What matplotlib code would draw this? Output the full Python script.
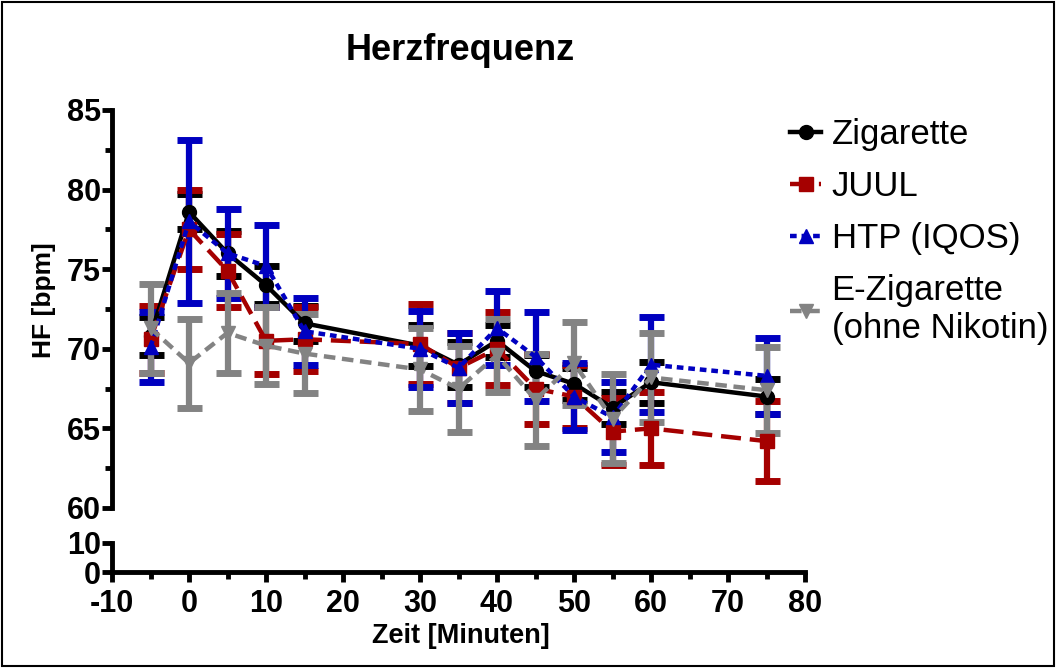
import matplotlib

matplotlib.use("Agg")
import matplotlib.pyplot as plt
from matplotlib.patches import Rectangle
from matplotlib.ticker import MultipleLocator

plt.rcParams["font.family"] = ["Liberation Sans", "DejaVu Sans"]
plt.rcParams["axes.unicode_minus"] = False

# Minutes relative to consumption start
TIMES = [-5, 0, 5, 10, 15, 30, 35, 40, 45, 50, 55, 60, 75]

ZIG_MEAN = [70.8, 78.6, 76.0, 74.0, 71.6, 70.2, 69.0, 70.5, 68.6, 67.8, 66.3, 67.9, 67.0]
ZIG_SEM = [1.2, 1.1, 1.4, 1.2, 1.1, 1.3, 1.4, 1.0, 1.0, 1.0, 1.0, 1.3, 1.1]

JUUL_MEAN = [70.6, 77.5, 74.9, 70.5, 70.6, 70.3, 68.8, 70.0, 67.5, 67.0, 64.8, 65.0, 64.2]
JUUL_SEM = [2.1, 2.5, 2.3, 2.1, 2.0, 2.5, 2.2, 2.3, 2.2, 2.0, 2.1, 2.3, 2.5]

HTP_MEAN = [70.1, 78.0, 76.0, 75.2, 71.1, 70.0, 68.8, 71.3, 69.5, 67.0, 65.7, 69.0, 68.3]
HTP_SEM = [2.2, 5.1, 2.8, 2.6, 2.1, 2.4, 2.2, 2.3, 2.8, 2.1, 2.2, 3.0, 2.4]

EZIG_MEAN = [71.3, 69.1, 71.0, 70.2, 69.7, 68.7, 67.5, 69.6, 66.8, 69.1, 65.6, 68.2, 67.4]
EZIG_SEM = [2.8, 2.8, 2.5, 2.4, 2.5, 2.6, 2.7, 2.3, 2.9, 2.6, 2.8, 2.8, 2.7]

LABELS = ["Zigarette", "JUUL", "HTP (IQOS)", "E-Zigarette\n(ohne Nikotin)"]

W, H = 1056, 668
fig = plt.figure(figsize=(W / 100, H / 100), dpi=100)

# pixel geometry of the broken axis (GraphPad style)
x0, x1 = 112, 805
ax = fig.add_axes([x0 / W, 1 - 508 / H, (x1 - x0) / W, (508 - 110) / H])
ax_lo = fig.add_axes([x0 / W, 1 - 572 / H, (x1 - x0) / W, (572 - 543) / H])

styles = [
    dict(color="black", marker="o", ls="-"),
    dict(color="#a50000", marker="s", ls=(0, (4.5, 2))),
    dict(color="#0000c0", marker="^", ls=(0, (1.5, 1.1))),
    dict(color="#838383", marker="v", ls=(0, (2.6, 1.5))),
]
series = [
    (ZIG_MEAN, ZIG_SEM),
    (JUUL_MEAN, JUUL_SEM),
    (HTP_MEAN, HTP_SEM),
    (EZIG_MEAN, EZIG_SEM),
]

handles = []
for (mean, sem), st in zip(series, styles):
    cont = ax.errorbar(
        TIMES, mean, yerr=sem,
        color=st["color"], marker=st["marker"], linestyle=st["ls"],
        lw=3.2, markersize=10, elinewidth=4.5, capsize=9, capthick=5,
        clip_on=False,
    )
    handles.append(cont[0])

ax.set_ylim(60, 85)
ax.yaxis.set_major_locator(MultipleLocator(5))
ax.yaxis.set_minor_locator(MultipleLocator(2.5))
ax.spines["bottom"].set_visible(False)
ax.tick_params(axis="x", which="both", bottom=False, labelbottom=False)

ax_lo.set_ylim(0, 10)
ax_lo.set_yticks([0, 10])
ax_lo.xaxis.set_major_locator(MultipleLocator(10))
ax_lo.xaxis.set_minor_locator(MultipleLocator(5))
ax_lo.yaxis.set_minor_locator(MultipleLocator(100))

for a in (ax, ax_lo):
    a.set_xlim(-10, 80)
    a.spines["top"].set_visible(False)
    a.spines["right"].set_visible(False)
    a.spines["left"].set_linewidth(3.5)
    a.spines["bottom"].set_linewidth(3.5)
    a.tick_params(axis="both", which="major", width=3.5, length=7, pad=1)
    a.tick_params(axis="both", which="minor", width=3.5, length=5)
    for lab in a.get_yticklabels() + a.get_xticklabels():
        lab.set_fontweight("bold")
        lab.set_fontsize(22)
ax_lo.tick_params(axis="x", which="major", pad=5)

fig.text(0.436, 1 - 50 / H, "Herzfrequenz", ha="center", va="center",
         fontsize=26, fontweight="bold")
fig.text(0.436, 1 - 636 / H, "Zeit [Minuten]", ha="center", va="center",
         fontsize=19.5, fontweight="bold")
fig.text(44 / W, 1 - 300 / H, "HF [bpm]", ha="center", va="center",
         rotation=90, fontsize=19, fontweight="bold")

fig.legend(
    handles, LABELS, loc="upper left", bbox_to_anchor=(776 / W, 1 - 104 / H),
    frameon=False, fontsize=25, handlelength=0.9, handletextpad=0.3,
    labelspacing=0.55, borderaxespad=0,
)

fig.add_artist(Rectangle((0.002, 0.003), 0.996, 0.994, transform=fig.transFigure,
                         fill=False, lw=1.5, ec="black"))

fig.savefig("out.png", dpi=100)
